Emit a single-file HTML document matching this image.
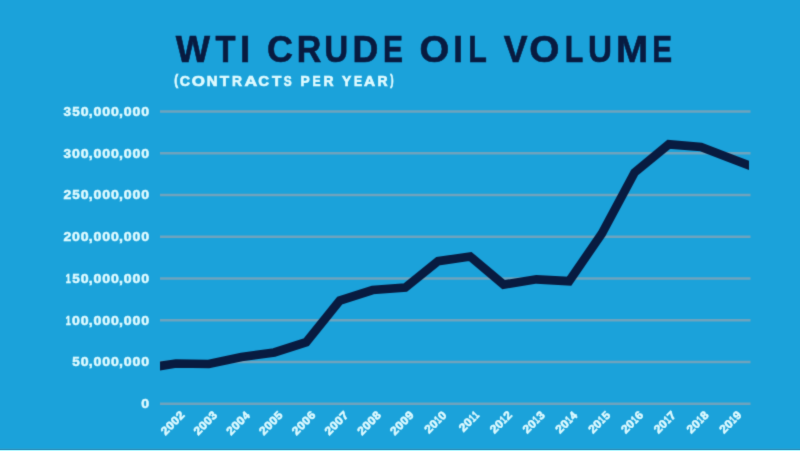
<!DOCTYPE html>
<html lang="en"><head><meta charset="utf-8"><title>WTI Crude Oil Volume</title>
<style>
html,body{margin:0;padding:0;}
body{width:800px;height:451px;overflow:hidden;background:#1ba2da;font-family:"Liberation Sans",sans-serif;}
svg{position:absolute;left:0;top:0;display:block;}
text{font-family:"Liberation Sans",sans-serif;font-weight:bold;font-kerning:none;}
.t{fill:#081b40;stroke:#081b40;stroke-width:0.6;font-size:36.8px;}
.s{fill:#ddfaff;stroke:#ddfaff;stroke-width:0.7;font-size:15.5px;}
.y{fill:#ddfaff;stroke:#ddfaff;stroke-width:0.55;font-size:13.0px;}
.x{fill:#ddfaff;stroke:#ddfaff;stroke-width:0.6;font-size:11.5px;}
.g{stroke:#6fa3bd;stroke-width:2.6;}
</style></head><body>
<svg width="800" height="451" viewBox="0 0 800 451">
<defs>
<clipPath id="c"><rect x="160.0" y="90" width="589.0" height="330"/></clipPath>
<filter id="b" x="0" y="0" width="800" height="451" filterUnits="userSpaceOnUse" color-interpolation-filters="sRGB"><feConvolveMatrix order="3" kernelMatrix="0.01690 0.09620 0.01690 0.09620 0.54760 0.09620 0.01690 0.09620 0.01690" divisor="1" edgeMode="duplicate" preserveAlpha="true"/></filter>
</defs>
<rect x="0" y="0" width="800" height="451" fill="#1ba2da"/>
<g filter="url(#b)">
<rect x="-5" y="-5" width="810" height="461" fill="#1ba2da"/>
<g class="t">
<text transform="translate(175.86,62.4) scale(0.9866,1)">W</text>
<text transform="translate(215.44,62.4) scale(0.8904,1)">T</text>
<text transform="translate(239.93,62.4) scale(1.0002,1)">I</text>
<text transform="translate(267.03,62.4) scale(0.9764,1)">C</text>
<text transform="translate(296.82,62.4) scale(0.9258,1)">R</text>
<text transform="translate(324.31,62.4) scale(0.8998,1)">U</text>
<text transform="translate(352.41,62.4) scale(0.9708,1)">D</text>
<text transform="translate(382.89,62.4) scale(0.8138,1)">E</text>
<text transform="translate(419.53,62.4) scale(1.0400,1)">O</text>
<text transform="translate(453.17,62.4) scale(0.9435,1)">I</text>
<text transform="translate(468.26,62.4) scale(0.8263,1)">L</text>
<text transform="translate(503.75,62.4) scale(0.9696,1)">V</text>
<text transform="translate(529.31,62.4) scale(1.0557,1)">O</text>
<text transform="translate(564.66,62.4) scale(0.8263,1)">L</text>
<text transform="translate(587.90,62.4) scale(0.9043,1)">U</text>
<text transform="translate(615.91,62.4) scale(1.0496,1)">M</text>
<text transform="translate(652.31,62.4) scale(0.8089,1)">E</text>
</g>
<g class="s">
<text transform="translate(174.26,84.81) scale(0.7550,0.9888324171074923)">(</text>
<text transform="translate(179.77,86.4) scale(0.9174,1)">C</text>
<text transform="translate(191.65,86.4) scale(1.0954,1)">O</text>
<text transform="translate(206.85,86.4) scale(0.9655,1)">N</text>
<text transform="translate(219.68,86.4) scale(0.9858,1)">T</text>
<text transform="translate(231.92,86.4) scale(0.8955,1)">R</text>
<text transform="translate(244.41,86.4) scale(1.1346,1)">A</text>
<text transform="translate(258.24,86.4) scale(0.9668,1)">C</text>
<text transform="translate(271.98,86.4) scale(0.9858,1)">T</text>
<text transform="translate(283.71,86.4) scale(0.7647,1)">S</text>
<text transform="translate(300.43,86.4) scale(0.8891,1)">P</text>
<text transform="translate(312.54,86.4) scale(0.7820,1)">E</text>
<text transform="translate(323.42,86.4) scale(0.8955,1)">R</text>
<text transform="translate(342.11,86.4) scale(0.8955,1)">Y</text>
<text transform="translate(354.04,86.4) scale(0.7820,1)">E</text>
<text transform="translate(363.97,86.4) scale(0.9903,1)">A</text>
<text transform="translate(377.42,86.4) scale(0.8955,1)">R</text>
<text transform="translate(390.34,84.81) scale(0.6406,0.9888324171074923)">)</text>
</g>
<line class="g" x1="160.0" y1="403.70" x2="750.5" y2="403.70"/>
<line class="g" x1="160.0" y1="361.95" x2="750.5" y2="361.95"/>
<line class="g" x1="160.0" y1="320.20" x2="750.5" y2="320.20"/>
<line class="g" x1="160.0" y1="278.45" x2="750.5" y2="278.45"/>
<line class="g" x1="160.0" y1="236.70" x2="750.5" y2="236.70"/>
<line class="g" x1="160.0" y1="194.95" x2="750.5" y2="194.95"/>
<line class="g" x1="160.0" y1="153.20" x2="750.5" y2="153.20"/>
<line class="g" x1="160.0" y1="111.45" x2="750.5" y2="111.45"/>
<g class="y" transform="translate(0,408.20)">
<text transform="translate(141.24,0) scale(1.0850,1)">0</text>
</g>
<g class="y" transform="translate(0,366.45)">
<text transform="translate(72.20,0) scale(1.0370,1)">5</text>
<text transform="translate(80.80,0) scale(1.0850,1)">0</text>
<text transform="translate(88.71,0) scale(1.0850,1)">,</text>
<text transform="translate(93.52,0) scale(1.0850,1)">0</text>
<text transform="translate(102.27,0) scale(1.0850,1)">0</text>
<text transform="translate(111.02,0) scale(1.0850,1)">0</text>
<text transform="translate(118.92,0) scale(1.0850,1)">,</text>
<text transform="translate(123.74,0) scale(1.0850,1)">0</text>
<text transform="translate(132.49,0) scale(1.0850,1)">0</text>
<text transform="translate(141.24,0) scale(1.0850,1)">0</text>
</g>
<g class="y" transform="translate(0,324.70)">
<text transform="translate(65.80,0) scale(0.6948,1)">1</text>
<text transform="translate(72.05,0) scale(1.0850,1)">0</text>
<text transform="translate(80.80,0) scale(1.0850,1)">0</text>
<text transform="translate(88.71,0) scale(1.0850,1)">,</text>
<text transform="translate(93.52,0) scale(1.0850,1)">0</text>
<text transform="translate(102.27,0) scale(1.0850,1)">0</text>
<text transform="translate(111.02,0) scale(1.0850,1)">0</text>
<text transform="translate(118.92,0) scale(1.0850,1)">,</text>
<text transform="translate(123.74,0) scale(1.0850,1)">0</text>
<text transform="translate(132.49,0) scale(1.0850,1)">0</text>
<text transform="translate(141.24,0) scale(1.0850,1)">0</text>
</g>
<g class="y" transform="translate(0,282.95)">
<text transform="translate(65.80,0) scale(0.6948,1)">1</text>
<text transform="translate(72.20,0) scale(1.0370,1)">5</text>
<text transform="translate(80.80,0) scale(1.0850,1)">0</text>
<text transform="translate(88.71,0) scale(1.0850,1)">,</text>
<text transform="translate(93.52,0) scale(1.0850,1)">0</text>
<text transform="translate(102.27,0) scale(1.0850,1)">0</text>
<text transform="translate(111.02,0) scale(1.0850,1)">0</text>
<text transform="translate(118.92,0) scale(1.0850,1)">,</text>
<text transform="translate(123.74,0) scale(1.0850,1)">0</text>
<text transform="translate(132.49,0) scale(1.0850,1)">0</text>
<text transform="translate(141.24,0) scale(1.0850,1)">0</text>
</g>
<g class="y" transform="translate(0,241.20)">
<text transform="translate(63.38,0) scale(1.0715,1)">2</text>
<text transform="translate(72.05,0) scale(1.0850,1)">0</text>
<text transform="translate(80.80,0) scale(1.0850,1)">0</text>
<text transform="translate(88.71,0) scale(1.0850,1)">,</text>
<text transform="translate(93.52,0) scale(1.0850,1)">0</text>
<text transform="translate(102.27,0) scale(1.0850,1)">0</text>
<text transform="translate(111.02,0) scale(1.0850,1)">0</text>
<text transform="translate(118.92,0) scale(1.0850,1)">,</text>
<text transform="translate(123.74,0) scale(1.0850,1)">0</text>
<text transform="translate(132.49,0) scale(1.0850,1)">0</text>
<text transform="translate(141.24,0) scale(1.0850,1)">0</text>
</g>
<g class="y" transform="translate(0,199.45)">
<text transform="translate(63.38,0) scale(1.0715,1)">2</text>
<text transform="translate(72.20,0) scale(1.0370,1)">5</text>
<text transform="translate(80.80,0) scale(1.0850,1)">0</text>
<text transform="translate(88.71,0) scale(1.0850,1)">,</text>
<text transform="translate(93.52,0) scale(1.0850,1)">0</text>
<text transform="translate(102.27,0) scale(1.0850,1)">0</text>
<text transform="translate(111.02,0) scale(1.0850,1)">0</text>
<text transform="translate(118.92,0) scale(1.0850,1)">,</text>
<text transform="translate(123.74,0) scale(1.0850,1)">0</text>
<text transform="translate(132.49,0) scale(1.0850,1)">0</text>
<text transform="translate(141.24,0) scale(1.0850,1)">0</text>
</g>
<g class="y" transform="translate(0,157.70)">
<text transform="translate(63.56,0) scale(1.0370,1)">3</text>
<text transform="translate(72.05,0) scale(1.0850,1)">0</text>
<text transform="translate(80.80,0) scale(1.0850,1)">0</text>
<text transform="translate(88.71,0) scale(1.0850,1)">,</text>
<text transform="translate(93.52,0) scale(1.0850,1)">0</text>
<text transform="translate(102.27,0) scale(1.0850,1)">0</text>
<text transform="translate(111.02,0) scale(1.0850,1)">0</text>
<text transform="translate(118.92,0) scale(1.0850,1)">,</text>
<text transform="translate(123.74,0) scale(1.0850,1)">0</text>
<text transform="translate(132.49,0) scale(1.0850,1)">0</text>
<text transform="translate(141.24,0) scale(1.0850,1)">0</text>
</g>
<g class="y" transform="translate(0,115.95)">
<text transform="translate(63.56,0) scale(1.0370,1)">3</text>
<text transform="translate(72.20,0) scale(1.0370,1)">5</text>
<text transform="translate(80.80,0) scale(1.0850,1)">0</text>
<text transform="translate(88.71,0) scale(1.0850,1)">,</text>
<text transform="translate(93.52,0) scale(1.0850,1)">0</text>
<text transform="translate(102.27,0) scale(1.0850,1)">0</text>
<text transform="translate(111.02,0) scale(1.0850,1)">0</text>
<text transform="translate(118.92,0) scale(1.0850,1)">,</text>
<text transform="translate(123.74,0) scale(1.0850,1)">0</text>
<text transform="translate(132.49,0) scale(1.0850,1)">0</text>
<text transform="translate(141.24,0) scale(1.0850,1)">0</text>
</g>
<polyline clip-path="url(#c)" points="143.2,368.6 176.0,363.5 208.8,364.0 241.5,357.0 274.3,352.5 306.2,342.2 339.8,300.6 372.6,290.0 405.3,287.6 438.1,261.2 470.2,256.5 503.6,284.6 536.4,279.3 569.1,281.2 601.9,233.5 634.6,172.5 668.8,144.3 701.0,147.0 732.9,159.3 765.7,171.8" fill="none" stroke="#081b40" stroke-width="8.7" stroke-linejoin="miter" stroke-miterlimit="10"/>
<g class="x" transform="translate(184.90,416.2) rotate(-45)">
<text transform="translate(-27.52,0) scale(1.0485,1)">2</text>
<text transform="translate(-20.49,0) scale(1.0618,1)">0</text>
<text transform="translate(-13.39,0) scale(1.0618,1)">0</text>
<text transform="translate(-6.22,0) scale(1.0485,1)">2</text>
</g>
<g class="x" transform="translate(217.66,416.2) rotate(-45)">
<text transform="translate(-27.52,0) scale(1.0485,1)">2</text>
<text transform="translate(-20.49,0) scale(1.0618,1)">0</text>
<text transform="translate(-13.39,0) scale(1.0618,1)">0</text>
<text transform="translate(-6.07,0) scale(1.0148,1)">3</text>
</g>
<g class="x" transform="translate(250.42,416.2) rotate(-45)">
<text transform="translate(-27.52,0) scale(1.0485,1)">2</text>
<text transform="translate(-20.49,0) scale(1.0618,1)">0</text>
<text transform="translate(-13.39,0) scale(1.0618,1)">0</text>
<text transform="translate(-5.96,0) scale(0.9409,1)">4</text>
</g>
<g class="x" transform="translate(283.18,416.2) rotate(-45)">
<text transform="translate(-27.52,0) scale(1.0485,1)">2</text>
<text transform="translate(-20.49,0) scale(1.0618,1)">0</text>
<text transform="translate(-13.39,0) scale(1.0618,1)">0</text>
<text transform="translate(-6.16,0) scale(1.0148,1)">5</text>
</g>
<g class="x" transform="translate(315.94,416.2) rotate(-45)">
<text transform="translate(-27.52,0) scale(1.0485,1)">2</text>
<text transform="translate(-20.49,0) scale(1.0618,1)">0</text>
<text transform="translate(-13.39,0) scale(1.0618,1)">0</text>
<text transform="translate(-6.24,0) scale(1.0442,1)">6</text>
</g>
<g class="x" transform="translate(348.70,416.2) rotate(-45)">
<text transform="translate(-27.52,0) scale(1.0485,1)">2</text>
<text transform="translate(-20.49,0) scale(1.0618,1)">0</text>
<text transform="translate(-13.39,0) scale(1.0618,1)">0</text>
<text transform="translate(-6.33,0) scale(1.0754,1)">7</text>
</g>
<g class="x" transform="translate(381.46,416.2) rotate(-45)">
<text transform="translate(-27.52,0) scale(1.0485,1)">2</text>
<text transform="translate(-20.49,0) scale(1.0618,1)">0</text>
<text transform="translate(-13.39,0) scale(1.0618,1)">0</text>
<text transform="translate(-6.18,0) scale(1.0230,1)">8</text>
</g>
<g class="x" transform="translate(414.22,416.2) rotate(-45)">
<text transform="translate(-27.52,0) scale(1.0485,1)">2</text>
<text transform="translate(-20.49,0) scale(1.0618,1)">0</text>
<text transform="translate(-13.39,0) scale(1.0618,1)">0</text>
<text transform="translate(-6.22,0) scale(1.0420,1)">9</text>
</g>
<g class="x" transform="translate(446.98,416.2) rotate(-45)">
<text transform="translate(-25.32,0) scale(1.0485,1)">2</text>
<text transform="translate(-18.29,0) scale(1.0618,1)">0</text>
<text transform="translate(-11.19,0) scale(0.6732,1)">1</text>
<text transform="translate(-6.29,0) scale(1.0618,1)">0</text>
</g>
<g class="x" transform="translate(479.74,416.2) rotate(-45)">
<text transform="translate(-23.12,0) scale(1.0485,1)">2</text>
<text transform="translate(-16.09,0) scale(1.0618,1)">0</text>
<text transform="translate(-8.99,0) scale(0.6732,1)">1</text>
<text transform="translate(-4.09,0) scale(0.6732,1)">1</text>
</g>
<g class="x" transform="translate(512.50,416.2) rotate(-45)">
<text transform="translate(-25.32,0) scale(1.0485,1)">2</text>
<text transform="translate(-18.29,0) scale(1.0618,1)">0</text>
<text transform="translate(-11.19,0) scale(0.6732,1)">1</text>
<text transform="translate(-6.22,0) scale(1.0485,1)">2</text>
</g>
<g class="x" transform="translate(545.26,416.2) rotate(-45)">
<text transform="translate(-25.32,0) scale(1.0485,1)">2</text>
<text transform="translate(-18.29,0) scale(1.0618,1)">0</text>
<text transform="translate(-11.19,0) scale(0.6732,1)">1</text>
<text transform="translate(-6.07,0) scale(1.0148,1)">3</text>
</g>
<g class="x" transform="translate(578.02,416.2) rotate(-45)">
<text transform="translate(-25.32,0) scale(1.0485,1)">2</text>
<text transform="translate(-18.29,0) scale(1.0618,1)">0</text>
<text transform="translate(-11.19,0) scale(0.6732,1)">1</text>
<text transform="translate(-5.96,0) scale(0.9409,1)">4</text>
</g>
<g class="x" transform="translate(610.78,416.2) rotate(-45)">
<text transform="translate(-25.32,0) scale(1.0485,1)">2</text>
<text transform="translate(-18.29,0) scale(1.0618,1)">0</text>
<text transform="translate(-11.19,0) scale(0.6732,1)">1</text>
<text transform="translate(-6.16,0) scale(1.0148,1)">5</text>
</g>
<g class="x" transform="translate(643.54,416.2) rotate(-45)">
<text transform="translate(-25.32,0) scale(1.0485,1)">2</text>
<text transform="translate(-18.29,0) scale(1.0618,1)">0</text>
<text transform="translate(-11.19,0) scale(0.6732,1)">1</text>
<text transform="translate(-6.24,0) scale(1.0442,1)">6</text>
</g>
<g class="x" transform="translate(676.30,416.2) rotate(-45)">
<text transform="translate(-25.32,0) scale(1.0485,1)">2</text>
<text transform="translate(-18.29,0) scale(1.0618,1)">0</text>
<text transform="translate(-11.19,0) scale(0.6732,1)">1</text>
<text transform="translate(-6.33,0) scale(1.0754,1)">7</text>
</g>
<g class="x" transform="translate(709.06,416.2) rotate(-45)">
<text transform="translate(-25.32,0) scale(1.0485,1)">2</text>
<text transform="translate(-18.29,0) scale(1.0618,1)">0</text>
<text transform="translate(-11.19,0) scale(0.6732,1)">1</text>
<text transform="translate(-6.18,0) scale(1.0230,1)">8</text>
</g>
<g class="x" transform="translate(741.82,416.2) rotate(-45)">
<text transform="translate(-25.32,0) scale(1.0485,1)">2</text>
<text transform="translate(-18.29,0) scale(1.0618,1)">0</text>
<text transform="translate(-11.19,0) scale(0.6732,1)">1</text>
<text transform="translate(-6.22,0) scale(1.0420,1)">9</text>
</g>
</g>
<rect x="0" y="448" width="800" height="1" fill="#25a0d1"/>
<rect x="0" y="449" width="800" height="1" fill="#2c91bd"/>
<rect x="0" y="450" width="800" height="1" fill="#aef5ff"/>
</svg>
</body></html>
